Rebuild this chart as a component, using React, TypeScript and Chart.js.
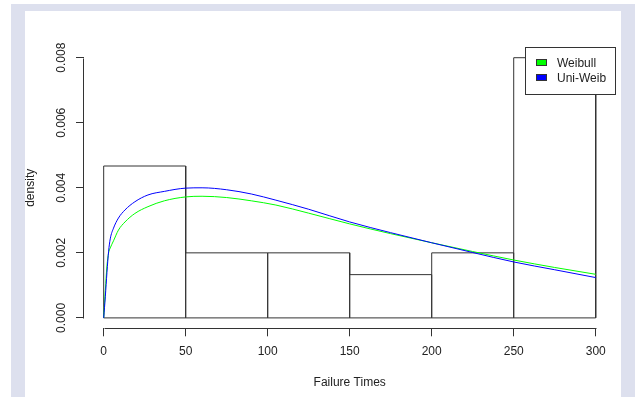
import React, { useEffect, useRef } from 'react';
import { Chart, registerables } from 'chart.js';

Chart.register(...registerables);

// Histogram (density scale)
const binEdges = [0, 50, 100, 150, 200, 250, 300];
const binDensity = [0.00467, 0.002, 0.002, 0.00133, 0.002, 0.008];

// Fitted density curves
const curveTimes = [0, 1, 2, 3, 4, 6, 9, 13, 19, 27, 37, 50, 60, 75, 90, 105, 125, 150, 175, 200, 225, 250, 275, 300];
const weibullDensity = [0, 0.00085, 0.0016, 0.002, 0.00215, 0.00237, 0.00270, 0.00295, 0.00321, 0.00342, 0.0036, 0.00372, 0.00374, 0.0037, 0.0036, 0.00347, 0.00322, 0.00289, 0.00259, 0.00231, 0.00204, 0.00178, 0.00155, 0.00134];
const uniWeibDensity = [0, 0.00065, 0.0014, 0.00205, 0.00243, 0.00276, 0.00307, 0.00332, 0.00357, 0.00378, 0.00389, 0.00399, 0.004, 0.00394, 0.00381, 0.00362, 0.00334, 0.00295, 0.00262, 0.00231, 0.00201, 0.00172, 0.00148, 0.00124];

// Axis ticks
const xTicks = [0, 50, 100, 150, 200, 250, 300];
const yTicks = [0, 0.002, 0.004, 0.006, 0.008];

const FONT = "'Liberation Sans', Arial, Helvetica, sans-serif";
const INK = '#222222';
const LINE = '#333333';

const rAxesPlugin = {
  id: 'rAxes',
  beforeDatasetsDraw(chart: any) {
    const { ctx, chartArea, scales } = chart;
    const xs = scales.x;
    const ys = scales.y;
    ctx.save();
    ctx.strokeStyle = LINE;
    ctx.lineWidth = 1;
    ctx.beginPath();
    const yb = Math.floor(chartArea.bottom) + 0.5;
    ctx.moveTo(Math.round(xs.getPixelForValue(xTicks[0])) + 0.5, yb);
    ctx.lineTo(Math.round(xs.getPixelForValue(xTicks[xTicks.length - 1])) + 0.5, yb);
    const xl = Math.round(chartArea.left) - 0.5;
    ctx.moveTo(xl, Math.round(ys.getPixelForValue(yTicks[0])) + 0.5);
    ctx.lineTo(xl, Math.round(ys.getPixelForValue(yTicks[yTicks.length - 1])) + 0.5);
    ctx.stroke();
    ctx.restore();
  },
};

const rLegendPlugin = {
  id: 'rLegend',
  afterDraw(chart: any) {
    const { ctx, chartArea } = chart;
    const w = 90;
    const h = 47;
    const left = Math.round(chartArea.right - w) + 0.5;
    const top = Math.round(chartArea.top) + 0.5;
    ctx.save();
    ctx.fillStyle = '#ffffff';
    ctx.fillRect(left, top, w, h);
    ctx.strokeStyle = LINE;
    ctx.lineWidth = 1;
    ctx.strokeRect(left, top, w, h);
    const items = chart.data.datasets.filter((d: any) => d.inLegend);
    ctx.font = `12px ${FONT}`;
    ctx.textBaseline = 'middle';
    ctx.textAlign = 'left';
    items.forEach((d: any, i: number) => {
      const sy = top + 12 + i * 15;
      const sx = left + 11;
      ctx.fillStyle = d.borderColor;
      ctx.fillRect(sx, sy, 10, 6);
      ctx.strokeStyle = LINE;
      ctx.strokeRect(sx, sy, 10, 6);
      ctx.fillStyle = INK;
      ctx.fillText(d.label, left + 31.5, sy + 4);
    });
    ctx.restore();
  },
};

export default function App() {
  const ref = useRef<HTMLCanvasElement>(null);

  useEffect(() => {
    const histPoints: { x: number; y: number }[] = [{ x: binEdges[0], y: 0 }];
    for (let i = 0; i < binDensity.length; i++) {
      histPoints.push({ x: binEdges[i], y: binDensity[i] });
      histPoints.push({ x: binEdges[i + 1], y: binDensity[i] });
      histPoints.push({ x: binEdges[i + 1], y: 0 });
    }
    histPoints.push({ x: binEdges[0], y: 0 });

    const chart = new Chart(ref.current as HTMLCanvasElement, {
      type: 'scatter',
      data: {
        datasets: [
          {
            label: 'histogram',
            data: histPoints,
            showLine: true,
            borderColor: LINE,
            borderWidth: 1,
            pointRadius: 0,
            tension: 0,
            fill: false,
            order: 3,
          } as any,
          {
            label: 'Weibull',
            data: curveTimes.map((t, i) => ({ x: t, y: weibullDensity[i] })),
            showLine: true,
            borderColor: '#00ff00',
            backgroundColor: '#00ff00',
            borderWidth: 1,
            pointRadius: 0,
            cubicInterpolationMode: 'monotone',
            fill: false,
            order: 2,
            inLegend: true,
          } as any,
          {
            label: 'Uni-Weib',
            data: curveTimes.map((t, i) => ({ x: t, y: uniWeibDensity[i] })),
            showLine: true,
            borderColor: '#0000ff',
            backgroundColor: '#0000ff',
            borderWidth: 1,
            pointRadius: 0,
            cubicInterpolationMode: 'monotone',
            fill: false,
            order: 1,
            inLegend: true,
          } as any,
        ],
      },
      options: {
        animation: false,
        responsive: false,
        events: [],
        layout: { padding: { left: 0, right: 19.6, top: 47.3, bottom: 0 } },
        plugins: {
          legend: { display: false },
          tooltip: { enabled: false },
        },
        scales: {
          x: {
            type: 'linear',
            min: -12,
            max: 312,
            afterBuildTicks: (s: any) => {
              s.ticks = xTicks.map((v) => ({ value: v }));
            },
            afterFit: (s: any) => {
              s.height = 68.7;
            },
            grid: {
              display: true,
              drawOnChartArea: false,
              drawTicks: true,
              tickLength: 8,
              color: LINE,
              tickColor: LINE,
            },
            border: { display: false },
            ticks: {
              padding: 7.7,
              maxRotation: 0,
              minRotation: 0,
              autoSkip: false,
              color: INK,
              font: { family: FONT, size: 12 },
              callback: (v: any) => String(v),
            },
            title: {
              display: true,
              text: 'Failure Times',
              color: INK,
              font: { family: FONT, size: 12 },
              padding: { top: 0, bottom: 7.3 },
            },
          },
          y: {
            type: 'linear',
            min: -0.00032,
            max: 0.00832,
            afterBuildTicks: (s: any) => {
              s.ticks = yTicks.map((v) => ({ value: v }));
            },
            afterFit: (s: any) => {
              s.width = 84;
            },
            grid: {
              display: true,
              drawOnChartArea: false,
              drawTicks: true,
              tickLength: 8,
              color: LINE,
              tickColor: LINE,
            },
            border: { display: false },
            ticks: {
              minRotation: 90,
              maxRotation: 90,
              crossAlign: 'center',
              padding: -0.7,
              autoSkip: false,
              color: INK,
              font: { family: FONT, size: 12 },
              callback: (v: any) => Number(v).toFixed(3),
            },
            title: {
              display: true,
              text: 'density',
              color: INK,
              font: { family: FONT, size: 12 },
              padding: { top: 23.5, bottom: 0 },
            },
          },
        },
      } as any,
      plugins: [rAxesPlugin, rLegendPlugin],
    });
    return () => chart.destroy();
  }, []);

  return (
    <div style={{ position: 'absolute', left: 0, top: 0, width: 635, height: 397, overflow: 'hidden', background: '#ffffff' }}>
      <div style={{ position: 'absolute', left: 11, top: 4, width: 624, height: 393, background: '#dde0ee' }} />
      <div style={{ position: 'absolute', left: 25, top: 11, width: 596, height: 386, background: '#ffffff' }} />
      <canvas
        ref={ref}
        width={635}
        height={397}
        style={{ position: 'absolute', left: 0, top: 0, width: 635, height: 397 }}
      />
    </div>
  );
}
